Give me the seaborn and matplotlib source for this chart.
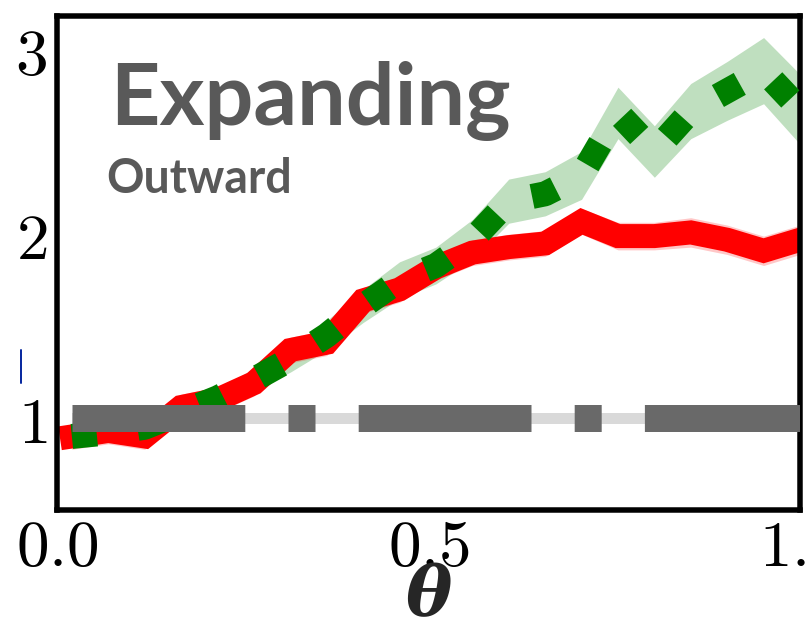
import numpy as np
import pandas as pd
import matplotlib
matplotlib.use("Agg")
import matplotlib.pyplot as plt
import seaborn as sns
from matplotlib.lines import Line2D

# Sweep of the parameter theta
theta = [0.02, 0.069, 0.118, 0.167, 0.216, 0.265, 0.314, 0.363, 0.412, 0.461,
         0.51, 0.559, 0.608, 0.657, 0.706, 0.755, 0.804, 0.853, 0.902, 0.951, 1.0]

# Solid red series (mean and spread)
red_mean = [0.90, 0.93, 0.90, 1.06, 1.10, 1.19, 1.37, 1.41, 1.64, 1.70, 1.82,
            1.90, 1.93, 1.95, 2.07, 1.99, 1.99, 2.01, 1.97, 1.91, 1.97]
red_err = [0.07, 0.07, 0.07, 0.07, 0.07, 0.07, 0.07, 0.07, 0.07, 0.07, 0.07,
           0.07, 0.07, 0.07, 0.07, 0.075, 0.075, 0.08, 0.08, 0.08, 0.08]

# Dotted green series (mean and spread)
green_mean = [0.90, 0.92, 0.95, 1.03, 1.11, 1.21, 1.32, 1.45, 1.61, 1.75, 1.83,
              1.97, 2.18, 2.22, 2.32, 2.66, 2.45, 2.67, 2.78, 2.89, 2.68]
green_err = [0.03, 0.03, 0.04, 0.05, 0.05, 0.06, 0.07, 0.08, 0.09, 0.10, 0.10,
             0.11, 0.12, 0.12, 0.13, 0.14, 0.14, 0.15, 0.16, 0.18, 0.19]

# Dash-dot grey reference series
ref_mean = [1.0, 1.0, 1.0, 1.0, 1.0, 1.0, 1.0, 1.0, 1.0, 1.0, 1.0,
            1.0, 1.0, 1.0, 1.0, 1.0, 1.0, 1.0, 1.0, 1.0, 1.0]
ref_err = [0.03, 0.03, 0.03, 0.03, 0.03, 0.03, 0.03, 0.03, 0.03, 0.03, 0.03,
           0.03, 0.03, 0.03, 0.03, 0.03, 0.03, 0.03, 0.03, 0.03, 0.03]

x_ticks = [0.0, 0.5, 1.0]
x_tick_labels = [r"$0.0$", r"$0.5$", r"$1.0$"]
y_ticks = [1, 2, 3]
y_tick_labels = [r"$1$", r"$2$", r"$3$"]

df = pd.DataFrame({
    "theta": theta,
    "red": red_mean, "red_err": red_err,
    "green": green_mean, "green_err": green_err,
    "ref": ref_mean, "ref_err": ref_err,
})

sns.set_style("white")
plt.rcParams["mathtext.fontset"] = "cm"

PX = 72.0 / 100.0  # points per pixel at dpi 100

fig = plt.figure(figsize=(8.07, 6.28), dpi=100)
ax = fig.add_axes([57 / 807, 1 - 510 / 628, 743 / 807, 494.5 / 628])

t = np.asarray(theta)
# spread bands
ax.fill_between(t, df["green"] - df["green_err"], df["green"] + df["green_err"],
                color="#bfdfbf", lw=0, zorder=1)
ax.fill_between(t, df["red"] - df["red_err"], df["red"] + df["red_err"],
                color="#ff0000", alpha=0.22, lw=0, zorder=1.5)
ax.fill_between(t, df["ref"] - df["ref_err"], df["ref"] + df["ref_err"],
                color="#d9d9d9", lw=0, zorder=1.6)

# mean curves
sns.lineplot(data=df, x="theta", y="red", ax=ax, color="#ff0000",
             linewidth=24 * PX, errorbar=None, zorder=2,
             solid_capstyle="projecting", solid_joinstyle="miter")
sns.lineplot(data=df, x="theta", y="green", ax=ax, color="#008000",
             linewidth=25 * PX, linestyle=":", errorbar=None, zorder=3)
sns.lineplot(data=df, x="theta", y="ref", ax=ax, color="#696969",
             linewidth=27 * PX, linestyle="-.", errorbar=None, zorder=4)

ax.set_xlim(0, 1)
ax.set_ylim(0.5, 3.19)
ax.set_xticks(x_ticks)
ax.set_xticklabels(x_tick_labels)
ax.set_yticks(y_ticks)
ax.set_yticklabels(y_tick_labels)
ax.tick_params(axis="both", direction="in", length=30 * PX, width=5 * PX,
               labelsize=47, colors="black", pad=7)
ax.tick_params(axis="x", pad=4)
for s in ax.spines.values():
    s.set_visible(True)
    s.set_color("black")
    s.set_linewidth(5.5 * PX)

ax.set_ylabel("")
ax.set_xlabel("")

# axis label, set just below the tick labels
fig.text(429 / 807, 1 - 616 / 628, "θ", fontfamily="DejaVu Serif",
         fontweight="bold", fontstyle="italic", fontsize=50,
         ha="center", va="baseline")

# panel title
fig.text(110 / 807, 1 - 125 / 628, "Expanding", fontsize=62, fontweight="bold",
         color="#595959", family="Lato", va="baseline", ha="left")
fig.text(106 / 807, 1 - 193 / 628, "Outward", fontsize=33.5, fontweight="bold",
         color="#595959", family="Lato", va="baseline", ha="left")

# stray mark at the left margin
fig.add_artist(Line2D([21 / 807, 21 / 807], [1 - 350 / 628, 1 - 383 / 628],
                      transform=fig.transFigure, color="#0a2aa0", lw=2 * PX))

fig.savefig("out.png", dpi=100)
